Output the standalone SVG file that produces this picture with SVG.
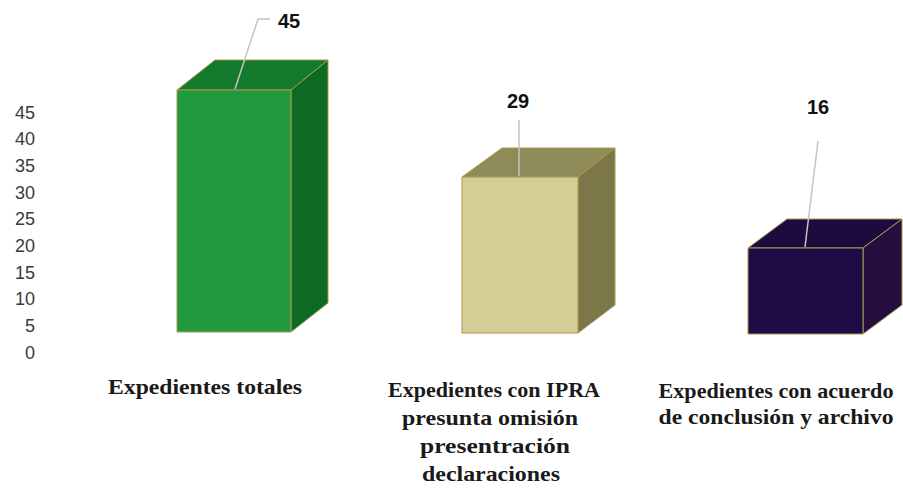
<svg xmlns="http://www.w3.org/2000/svg" width="903" height="492" viewBox="0 0 903 492">
<style>
.ax{font-family:"Liberation Sans",Arial,sans-serif;font-size:18px;fill:#3a3a3a;text-anchor:end}
.val{font-family:"Liberation Sans",Arial,sans-serif;font-size:20px;font-weight:bold;fill:#111}
.cat{font-family:"Liberation Serif","Times New Roman",serif;font-size:22px;font-weight:bold;fill:#1a1a1a;text-anchor:middle}
.edge{stroke:#a89850;stroke-width:1;stroke-linejoin:round}
.lead{stroke:#c4c4c4;stroke-width:1.5;fill:none}
</style>
<rect width="903" height="492" fill="#ffffff"/>
<g id="axis">
<text class="ax" x="35" y="118.5">45</text>
<text class="ax" x="35" y="145.2">40</text>
<text class="ax" x="35" y="171.9">35</text>
<text class="ax" x="35" y="198.6">30</text>
<text class="ax" x="35" y="225.3">25</text>
<text class="ax" x="35" y="252">20</text>
<text class="ax" x="35" y="278.7">15</text>
<text class="ax" x="35" y="305.4">10</text>
<text class="ax" x="35" y="332.1">5</text>
<text class="ax" x="35" y="358.8">0</text>
</g>
<g id="bar-total">
<polygon class="edge" points="177,90 215,60 328,60 291,90" fill="#137a2c"/>
<polygon class="edge" points="291,90 328,60 328,303 291,332" fill="#0c6a22"/>
<rect class="edge" x="177" y="90" width="114" height="242" fill="#21993c"/>
<text class="val" x="278" y="28">45</text>
</g>
<g id="bar-ipra">
<polygon class="edge" points="462,177 502,148 615,148 578,177" fill="#8f8b58"/>
<polygon class="edge" points="578,177 615,148 615,305 578,333" fill="#7b7748"/>
<rect class="edge" x="462" y="177" width="116" height="156" fill="#d4ce95"/>
<text class="val" x="507" y="108">29</text>
</g>
<g id="bar-archivo">
<polygon class="edge" points="748,248 787,219 902,219 863,248" fill="#1d0b40" stroke="#c8b870"/>
<polygon class="edge" points="863,248 902,219 902,305 863,334" fill="#240f3e" stroke="#c8b870"/>
<rect class="edge" x="748" y="248" width="115" height="86" fill="#1f0c47" stroke="#c8b870"/>
<text class="val" x="807" y="114">16</text>
</g>
<g id="connectors">
<polyline class="lead" points="235,89 258,19 270,19"/>
<line class="lead" x1="519" y1="120" x2="519" y2="176"/>
<line class="lead" x1="818" y1="141" x2="805" y2="247"/>
</g>
<g id="labels">
<text class="cat" x="205" y="394" textLength="194" lengthAdjust="spacingAndGlyphs">Expedientes totales</text>
<text class="cat" x="494" y="397" textLength="212" lengthAdjust="spacingAndGlyphs">Expedientes con IPRA</text>
<text class="cat" x="490" y="425" textLength="176" lengthAdjust="spacingAndGlyphs">presunta omisión</text>
<text class="cat" x="495" y="453" textLength="150" lengthAdjust="spacingAndGlyphs">presentración</text>
<text class="cat" x="491" y="481" textLength="138" lengthAdjust="spacingAndGlyphs">declaraciones</text>
<text class="cat" x="776" y="398" textLength="235" lengthAdjust="spacingAndGlyphs">Expedientes con acuerdo</text>
<text class="cat" x="776" y="424" textLength="235" lengthAdjust="spacingAndGlyphs">de conclusión y archivo</text>
</g>
</svg>
